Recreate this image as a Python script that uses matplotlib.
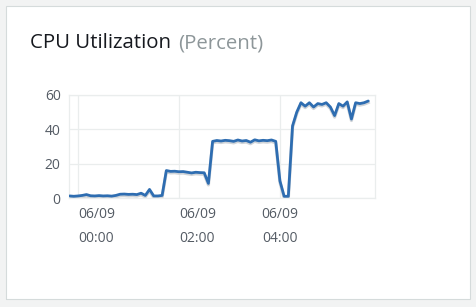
import matplotlib
matplotlib.use("Agg")
import matplotlib.pyplot as plt
from matplotlib.patches import Rectangle
import matplotlib.transforms as mtransforms

# ---- data (minutes relative to 06/09 00:00, CPU %) ----
minutes = list(range(-10, 350, 5))
cpu = [1.2, 1.0, 1.2, 1.5, 2.0, 1.3, 1.2, 1.4, 1.2, 1.3,
       1.1, 1.5, 2.2, 2.3, 2.1, 2.2, 2.0, 2.8, 1.5, 5.0,
       1.2, 1.2, 1.5, 16.0, 15.5, 15.6, 15.3, 15.4, 15.0, 14.6,
       15.0, 14.8, 14.7, 8.5, 33.0, 33.5, 33.2, 33.6, 33.4, 33.0,
       33.8, 33.2, 33.5, 32.5, 33.9, 33.3, 33.6, 33.4, 33.8, 33.0,
       10.0, 1.0, 1.0, 42.0, 50.0, 55.5, 53.5, 55.5, 53.0, 55.0,
       54.5, 55.5, 53.0, 48.0, 55.0, 53.5, 56.0, 46.0, 55.5, 55.0,
       55.5, 56.5]
grid_minutes = [0, 120, 240]
date_labels = ["06/09", "06/09", "06/09"]
time_labels = ["00:00", "02:00", "04:00"]
label_align = ["left", "left", "center"]
y_ticks = [0, 20, 40, 60]

W, H = 477, 307
fig = plt.figure(figsize=(W / 100, H / 100), dpi=100)
fig.patch.set_facecolor("#f2f3f3")

# card
card = Rectangle((6 / W, 1 - 299 / H), (470 - 6) / W, (299 - 6) / H,
                 transform=fig.transFigure, facecolor="white",
                 edgecolor="#d5dbdb", linewidth=0.8, zorder=-2)
fig.patches.append(card)
shadow = Rectangle((6 / W, 1 - 300 / H), (470 - 6) / W, 1.5 / H,
                   transform=fig.transFigure, facecolor="#aab7b8",
                   edgecolor="none", zorder=-3)
fig.patches.append(shadow)

# title
t1 = fig.text(30 / W, 1 - 48 / H, "CPU Utilization", fontsize=14.7,
              family="Open Sans", color="#16191f", va="baseline", ha="left")
fig.canvas.draw()
bb = t1.get_window_extent()
fig.text((bb.x1 + 7) / W, 1 - 48 / H, "(Percent)", fontsize=14.7,
         family="Open Sans", color="#8d9699", va="baseline", ha="left")

ax = fig.add_axes([69 / W, 1 - 198 / H, (375 - 69) / W, (198 - 95) / H])
ax.set_facecolor("white")
# faint shadow under the line
off = mtransforms.offset_copy(ax.transData, fig=fig, x=0, y=-1.5, units="dots")
ax.plot(minutes, cpu, color="#d0d4d8", lw=2.3, transform=off, zorder=2,
        solid_joinstyle="round")
ax.plot(minutes, cpu, color="#2e6db1", lw=2.0, zorder=3,
        solid_joinstyle="round", solid_capstyle="round")

ax.set_xlim(-10.7, 353)
ax.set_ylim(0, 60)
ax.set_yticks(y_ticks)
ax.set_xticks(grid_minutes)
ax.set_xticklabels([])
ax.tick_params(axis="x", length=0)
ax.tick_params(axis="y", length=0, pad=6, labelsize=10, labelcolor="#545b64")
for lab in ax.get_yticklabels():
    lab.set_family("Open Sans")
ax.grid(True, color="#eaeded", lw=0.9)
ax.set_axisbelow(True)
for s in ax.spines.values():
    s.set_color("#eaeded")
    s.set_linewidth(0.9)

trans = mtransforms.blended_transform_factory(ax.transData, fig.transFigure)
for m, d, t, ha in zip(grid_minutes, date_labels, time_labels, label_align):
    ax.text(m, 1 - 215 / H, d, transform=trans, ha=ha, va="center",
            fontsize=10, family="Open Sans", color="#545b64", clip_on=False)
    ax.text(m, 1 - 238.5 / H, t, transform=trans, ha=ha, va="center",
            fontsize=10, family="Open Sans", color="#545b64", clip_on=False)

fig.savefig("out.png", dpi=100, facecolor=fig.get_facecolor())
